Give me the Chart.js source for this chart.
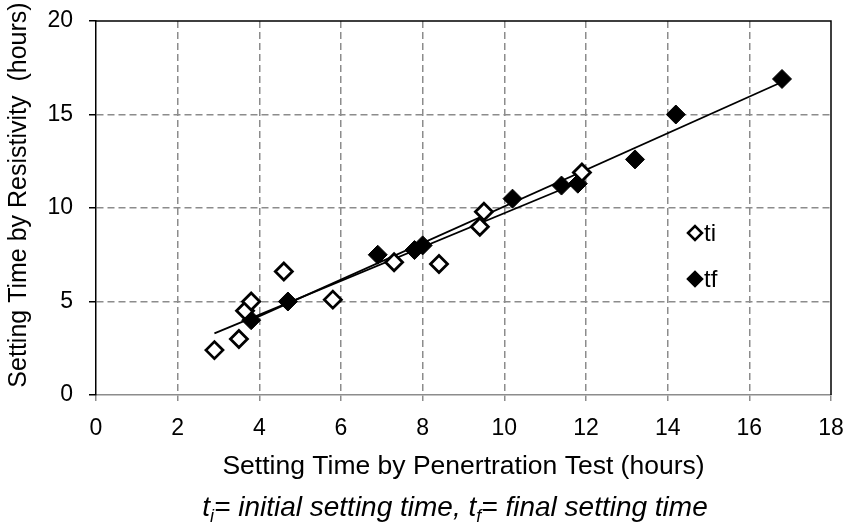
<!DOCTYPE html>
<html>
<head>
<meta charset="utf-8">
<script src="https://cdn.jsdelivr.net/npm/chart.js@4.4.1/dist/chart.umd.min.js"></script>
<style>
  html, body { margin: 0; padding: 0; background: #fff; }
  #wrap { width: 847px; height: 529px; }
</style>
</head>
<body>
<div id="wrap"><canvas id="chart" width="847" height="529"></canvas></div>
<script>
// readings (hours)
const tiX = [2.9, 3.5, 3.65, 3.8, 4.6, 5.8, 7.3, 8.4, 9.4, 9.5, 11.9]
const tiY = [2.4, 3.0, 4.5, 5.0, 6.6, 5.1, 7.1, 7.0, 9.0, 9.8, 11.9]
const tfX = [3.8, 4.7, 6.9, 7.8, 8.0, 10.2, 11.4, 11.8, 13.2, 14.2, 16.8]
const tfY = [4.0, 5.0, 7.5, 7.75, 8.0, 10.5, 11.2, 11.3, 12.6, 15.0, 16.9]
const xTicks = [0, 2, 4, 6, 8, 10, 12, 14, 16, 18]
const yTicks = [0, 5, 10, 15, 20]

const FONT = "'Liberation Sans', Arial, sans-serif"

const toPoints = (xs, ys) => xs.map((x, i) => ({ x, y: ys[i] }))

// linear trendline like Excel's, over the range of the series
function trend(xs, ys) {
  const n = xs.length
  const mx = xs.reduce((a, b) => a + b, 0) / n
  const my = ys.reduce((a, b) => a + b, 0) / n
  let sxy = 0, sxx = 0
  xs.forEach((x, i) => {
    sxy += (x - mx) * (ys[i] - my)
    sxx += (x - mx) * (x - mx)
  })
  const k = sxy / sxx
  const x0 = Math.min(...xs), x1 = Math.max(...xs)
  return [{ x: x0, y: my + k * (x0 - mx) }, { x: x1, y: my + k * (x1 - mx) }]
}

// frame, y title, legend and footnote
const extras = {
  id: "extras",
  afterDraw(chart) {
    const { ctx, chartArea: a } = chart
    ctx.save()
    ctx.strokeStyle = "#000"
    ctx.lineWidth = 1.5
    ctx.beginPath()
    ctx.moveTo(a.left, a.top)
    ctx.lineTo(a.right, a.top)
    ctx.lineTo(a.right, a.bottom)
    ctx.stroke()

    // y axis title
    ctx.save()
    ctx.translate(19, 195)
    ctx.rotate(-Math.PI / 2)
    ctx.font = "25px " + FONT
    ctx.fillStyle = "#000"
    ctx.textAlign = "center"
    ctx.textBaseline = "middle"
    ctx.fillText("Setting Time by Resistivity  (hours)", 0, 0)
    ctx.restore()

    // legend inside plot
    const items = [
      { label: "ti", y: 233, fill: "#fff" },
      { label: "tf", y: 279, fill: "#000" },
    ]
    items.forEach((it) => {
      ctx.fillStyle = it.fill
      ctx.strokeStyle = "#000"
      ctx.lineWidth = 2.5
      Chart.helpers.drawPoint(ctx, { pointStyle: "rectRot", radius: 7, rotation: 0, borderWidth: 2.5 }, 695, it.y)
      ctx.fillStyle = "#000"
      ctx.font = "24px " + FONT
      ctx.textBaseline = "middle"
      ctx.textAlign = "left"
      ctx.fillText(it.label, 704, it.y + 1)
    })

    // footnote with subscripts
    const parts = [
      { t: "t", sub: false },
      { t: "i", sub: true },
      { t: "= initial setting time, t", sub: false },
      { t: "f", sub: true },
      { t: "= final setting time", sub: false },
    ]
    const big = "italic 28px " + FONT
    const small = "italic 18px " + FONT
    let total = 0
    parts.forEach((p) => {
      ctx.font = p.sub ? small : big
      p.w = ctx.measureText(p.t).width
      total += p.w
    })
    let x = 455 - total / 2
    const base = 516
    ctx.textAlign = "left"
    ctx.textBaseline = "alphabetic"
    parts.forEach((p) => {
      ctx.font = p.sub ? small : big
      ctx.fillText(p.t, x, p.sub ? base + 6 : base)
      x += p.w
    })
    ctx.restore()
  },
}

new Chart(document.getElementById("chart"), {
  type: "scatter",
  data: {
    datasets: [
      {
        label: "ti",
        data: toPoints(tiX, tiY),
        pointStyle: "rectRot",
        pointRadius: 8.5,
        pointHoverRadius: 8.5,
        backgroundColor: "#fff",
        borderColor: "#000",
        borderWidth: 2.8,
        order: 1,
      },
      {
        label: "tf",
        data: toPoints(tfX, tfY),
        pointStyle: "rectRot",
        pointRadius: 9.5,
        pointHoverRadius: 9.5,
        backgroundColor: "#000",
        borderColor: "#000",
        borderWidth: 1,
        order: 2,
      },
      {
        label: "ti trend",
        type: "line",
        data: trend(tiX, tiY),
        borderColor: "#000",
        borderWidth: 1.8,
        pointRadius: 0,
        fill: false,
        order: 3,
      },
      {
        label: "tf trend",
        type: "line",
        data: trend(tfX, tfY),
        borderColor: "#000",
        borderWidth: 1.8,
        pointRadius: 0,
        fill: false,
        order: 3,
      },
    ],
  },
  options: {
    responsive: false,
    animation: false,
    layout: { padding: { left: 0, right: 16, top: 21, bottom: 0 } },
    plugins: {
      legend: { display: false },
      tooltip: { enabled: false },
    },
    scales: {
      x: {
        type: "linear",
        min: 0,
        max: 18,
        afterBuildTicks: (s) => { s.ticks = xTicks.map((v) => ({ value: v })) },
        afterFit: (s) => {
          s.height = 134
          s.paddingLeft = 0
          s.paddingRight = 0
        },
        ticks: { font: { size: 23, family: FONT }, color: "#000", padding: 14 },
        grid: {
          color: (c) => (c.tick && (c.tick.value === 0 || c.tick.value === 18) ? "rgba(0,0,0,0)" : "#8c8c8c"),
          lineWidth: 1.5,
          tickColor: "#8c8c8c",
          tickLength: 6,
          tickBorderDash: [],
        },
        border: { display: true, color: "#8c8c8c", width: 1.5, dash: [7, 4] },
        title: {
          display: true,
          text: "Setting Time by Penertration Test (hours)",
          font: { size: 26.5, family: FONT },
          color: "#000",
          padding: { top: 0, bottom: 46 },
        },
      },
      y: {
        type: "linear",
        min: 0,
        max: 20,
        afterBuildTicks: (s) => { s.ticks = yTicks.map((v) => ({ value: v })) },
        afterFit: (s) => {
          s.width = 96
          s.paddingTop = 0
          s.paddingBottom = 0
        },
        ticks: { font: { size: 23, family: FONT }, color: "#000", padding: 16 },
        grid: {
          color: (c) => (c.tick && (c.tick.value === 0 || c.tick.value === 20) ? "rgba(0,0,0,0)" : "#8c8c8c"),
          lineWidth: 1.5,
          tickColor: "#000",
          tickLength: 7,
          tickBorderDash: [],
        },
        border: { display: true, color: "#000", width: 1.5, dash: [7, 4] },
        title: { display: false },
      },
    },
  },
  plugins: [extras],
})
</script>
</body>
</html>
